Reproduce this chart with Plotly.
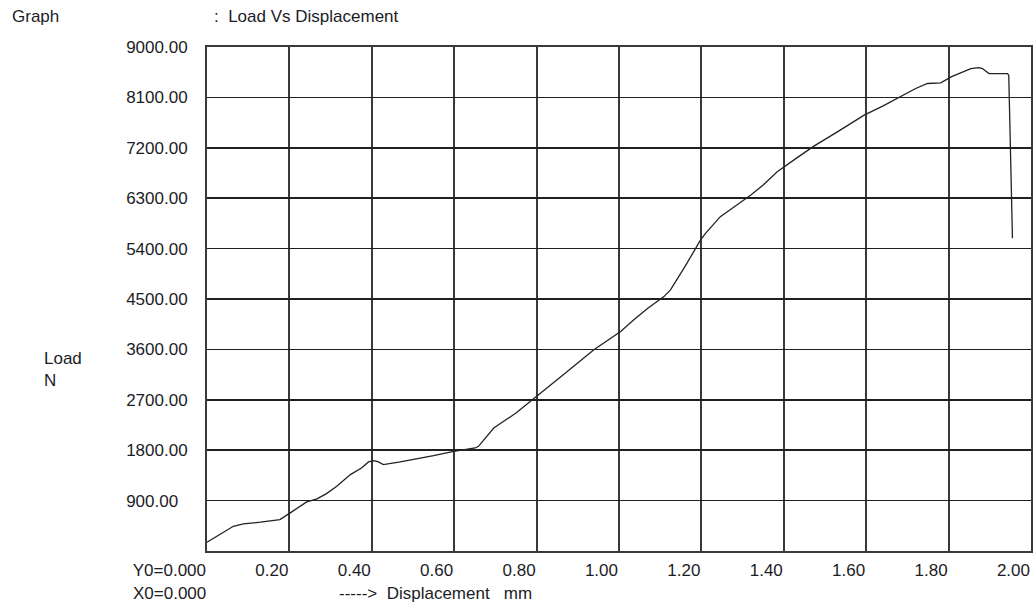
import plotly.graph_objects as go

# Displacement (mm) and Load (N)
displacement = [0.000, 0.030, 0.064, 0.088, 0.130, 0.177, 0.190, 0.202, 0.242, 0.267,
                0.290, 0.315, 0.348, 0.375, 0.392, 0.404, 0.415, 0.428, 0.469, 0.510,
                0.550, 0.599, 0.651, 0.659, 0.696, 0.750, 0.801, 0.870, 0.939, 1.004,
                1.036, 1.070, 1.109, 1.125, 1.160, 1.198, 1.210, 1.246, 1.280, 1.320,
                1.350, 1.384, 1.430, 1.473, 1.530, 1.595, 1.640, 1.692, 1.720, 1.749,
                1.781, 1.806, 1.830, 1.854, 1.874, 1.882, 1.898, 1.943, 1.946, 1.955]
load = [157, 294, 442, 485, 514, 562, 621, 681, 877, 930,
        1025, 1155, 1364, 1483, 1590, 1613, 1596, 1542, 1590, 1644,
        1703, 1780, 1840, 1869, 2196, 2464, 2760, 3177, 3593, 3920,
        4128, 4336, 4543, 4663, 5078, 5554, 5673, 5970, 6148, 6356,
        6535, 6772, 7011, 7230, 7485, 7783, 7943, 8140, 8259, 8348,
        8359, 8466, 8537, 8615, 8633, 8615, 8526, 8526, 8496, 5584]

x_ticks = [0.0, 0.2, 0.4, 0.6, 0.8, 1.0, 1.2, 1.4, 1.6, 1.8, 2.0]
x_tick_text = ["Y0=0.000", "0.20", "0.40", "0.60", "0.80", "1.00", "1.20",
               "1.40", "1.60", "1.80", "2.00"]
y_ticks = [900, 1800, 2700, 3600, 4500, 5400, 6300, 7200, 8100, 9000]
# labels are left-aligned in the reference: pad shorter ones with no-break spaces
y_tick_text = [("%.2f" % v) + ("\u00a0\u00a0" if v < 1000 else "") for v in y_ticks]

FONT = "Liberation Sans, Arial, sans-serif"
FS = 17
TXT = "#1c1c26"
GRID = "#3a3a3a"

W, H = 1035, 603
L, R, T, B = 207, 4, 47, 52
PW, PH = W - L - R, H - T - B

fig = go.Figure()
fig.add_trace(go.Scatter(x=displacement, y=load, mode="lines",
                         line=dict(color="#222222", width=1.3),
                         showlegend=False, hoverinfo="skip"))

fig.update_layout(
    width=W, height=H,
    margin=dict(l=L, r=R, t=T, b=B, autoexpand=False),
    paper_bgcolor="white", plot_bgcolor="white",
    font=dict(family=FONT, size=FS, color=TXT),
    xaxis=dict(range=[0, 2.0], tickmode="array", tickvals=x_ticks, ticktext=x_tick_text,
               ticklabelposition="outside left", ticks="", showgrid=True,
               gridcolor=GRID, gridwidth=2, showline=True, linecolor=GRID,
               linewidth=2, mirror=True, zeroline=False, automargin=False,
               tickfont=dict(family=FONT, size=FS, color=TXT), ticklabelstandoff=3),
    yaxis=dict(range=[0, 9000], tickmode="array", tickvals=y_ticks, ticktext=y_tick_text,
               ticks="", showgrid=True, gridcolor="#202020", gridwidth=1.5,
               showline=True, linecolor=GRID, linewidth=2, mirror=True,
               zeroline=False, automargin=False,
               tickfont=dict(family=FONT, size=FS, color=TXT),
               ticklabelstandoff=14),
)

# positions given in page pixels of the reference
annots = [
    dict(text="Graph", x=10, y=16),
    dict(text=":\u00a0\u00a0Load Vs Displacement", x=212, y=16),
    dict(text="Load", x=42, y=358),
    dict(text="N", x=42, y=380),
    dict(text="X0=0.000", x=131, y=593),
    dict(text="----->\u00a0\u00a0Displacement\u00a0\u00a0\u00a0mm", x=337, y=593),
]
for a in annots:
    fig.add_annotation(text=a["text"], x=(a["x"] - L) / PW, y=(H - B - a["y"]) / PH,
                       xref="paper", yref="paper", xanchor="left", yanchor="middle",
                       showarrow=False, font=dict(family=FONT, size=FS, color=TXT))

# remove the default page margin so the figure fills the window exactly
fig.write_html("out.html",
               config={"displayModeBar": False, "staticPlot": True},
               post_script="document.body.style.margin='0';"
                           "document.body.style.overflow='hidden';")
